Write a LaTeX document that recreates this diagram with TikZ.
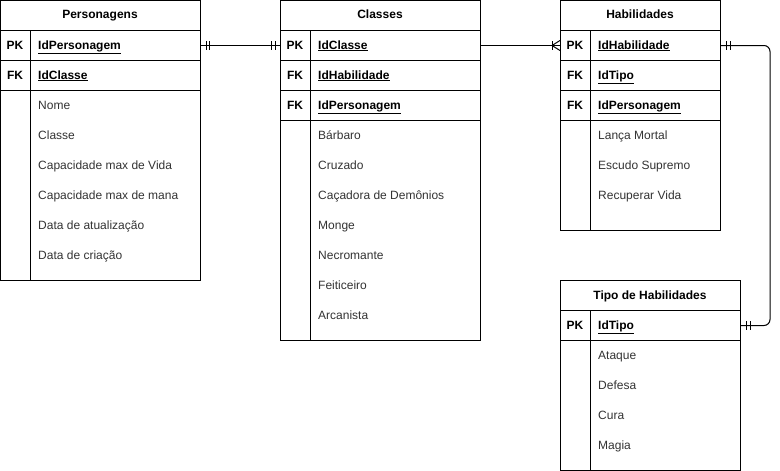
\documentclass[tikz,border=0pt]{standalone}
\usepackage{fontspec}
\setmainfont{Liberation Sans}
\usetikzlibrary{calc}
\definecolor{attrgray}{HTML}{333333}
\begin{document}
\begin{tikzpicture}[x=1pt,y=-1pt,
  box/.style={draw=black, line width=1pt, fill=white, rectangle, inner sep=0pt, anchor=north west},
  txt/.style={inner sep=0pt, text height=10pt, text depth=2pt},
  hdr/.style={txt, font=\fontsize{12}{14}\selectfont\bfseries},
  keytag/.style={txt, font=\fontsize{12}{14}\selectfont\bfseries},
  keyname/.style={txt, font=\fontsize{12}{14}\selectfont\bfseries, anchor=west},
  attr/.style={txt, font=\fontsize{12}{14}\selectfont, text=attrgray, anchor=west},
  conn/.style={draw=black, line width=1pt},
  sym/.style={draw=black, line width=1pt}
]
\useasboundingbox (0,0) rectangle (780,471);

% ---------- Personagens ----------
\node[box, minimum width=200pt, minimum height=250pt] (persbody) at (0,30) {};
\node[box, minimum width=200pt, minimum height=30pt] (pershdr) at (0,0) {};
\node[box, minimum width=200pt, minimum height=30pt] (perspk) at (0,30) {};
\node[box, minimum width=200pt, minimum height=30pt] (persfk) at (0,60) {};
\draw[conn] (30,30) coordinate (persd1) -- (30,280) coordinate (persd2);
\node[hdr] (pershdrtxt) at (100,15) {Personagens};
\node[keytag] (perspktag) at (15,45) {PK};
\node[keyname] (perspkname) at (38,45) {\underline{IdPersonagem}};
\node[keytag] (persfktag) at (15,75) {FK};
\node[keyname] (persfkname) at (38,75) {\underline{IdClasse}};
\node[attr] (persa1) at (38,105) {Nome};
\node[attr] (persa2) at (38,135) {Classe};
\node[attr] (persa3) at (38,165) {Capacidade max de Vida};
\node[attr] (persa4) at (38,195) {Capacidade max de mana};
\node[attr] (persa5) at (38,225) {Data de atualização};
\node[attr] (persa6) at (38,255) {Data de criação};

% ---------- Classes ----------
\node[box, minimum width=200pt, minimum height=310pt] (clsbody) at (280,30) {};
\node[box, minimum width=200pt, minimum height=30pt] (clshdr) at (280,0) {};
\node[box, minimum width=200pt, minimum height=30pt] (clspk) at (280,30) {};
\node[box, minimum width=200pt, minimum height=30pt] (clsfk1) at (280,60) {};
\node[box, minimum width=200pt, minimum height=30pt] (clsfk2) at (280,90) {};
\draw[conn] (310,30) coordinate (clsd1) -- (310,340) coordinate (clsd2);
\node[hdr] (clshdrtxt) at (380,15) {Classes};
\node[keytag] (clspktag) at (295,45) {PK};
\node[keyname] (clspkname) at (318,45) {\underline{IdClasse}};
\node[keytag] (clsfk1tag) at (295,75) {FK};
\node[keyname] (clsfk1name) at (318,75) {\underline{IdHabilidade}};
\node[keytag] (clsfk2tag) at (295,105) {FK};
\node[keyname] (clsfk2name) at (318,105) {\underline{IdPersonagem}};
\node[attr] (clsa1) at (318,135) {Bárbaro};
\node[attr] (clsa2) at (318,165) {Cruzado};
\node[attr] (clsa3) at (318,195) {Caçadora de Demônios};
\node[attr] (clsa4) at (318,225) {Monge};
\node[attr] (clsa5) at (318,255) {Necromante};
\node[attr] (clsa6) at (318,285) {Feiticeiro};
\node[attr] (clsa7) at (318,315) {Arcanista};

% ---------- Habilidades ----------
\node[box, minimum width=160pt, minimum height=200pt] (habbody) at (560,30) {};
\node[box, minimum width=160pt, minimum height=30pt] (habhdr) at (560,0) {};
\node[box, minimum width=160pt, minimum height=30pt] (habpk) at (560,30) {};
\node[box, minimum width=160pt, minimum height=30pt] (habfk1) at (560,60) {};
\node[box, minimum width=160pt, minimum height=30pt] (habfk2) at (560,90) {};
\draw[conn] (590,30) coordinate (habd1) -- (590,230) coordinate (habd2);
\node[hdr] (habhdrtxt) at (640,15) {Habilidades};
\node[keytag] (habpktag) at (575,45) {PK};
\node[keyname] (habpkname) at (598,45) {\underline{IdHabilidade}};
\node[keytag] (habfk1tag) at (575,75) {FK};
\node[keyname] (habfk1name) at (598,75) {\underline{IdTipo}};
\node[keytag] (habfk2tag) at (575,105) {FK};
\node[keyname] (habfk2name) at (598,105) {\underline{IdPersonagem}};
\node[attr] (haba1) at (598,135) {Lança Mortal};
\node[attr] (haba2) at (598,165) {Escudo Supremo};
\node[attr] (haba3) at (598,195) {Recuperar Vida};

% ---------- Tipo de Habilidades ----------
\node[box, minimum width=180pt, minimum height=160pt] (tipbody) at (560,310) {};
\node[box, minimum width=180pt, minimum height=30pt] (tiphdr) at (560,280) {};
\node[box, minimum width=180pt, minimum height=30pt] (tippk) at (560,310) {};
\draw[conn] (590,310) coordinate (tipd1) -- (590,470) coordinate (tipd2);
\node[hdr] (tiphdrtxt) at (650,295) {Tipo de Habilidades};
\node[keytag] (tippktag) at (575,325) {PK};
\node[keyname] (tippkname) at (598,325) {\underline{IdTipo}};
\node[attr] (tipa1) at (598,355) {Ataque};
\node[attr] (tipa2) at (598,385) {Defesa};
\node[attr] (tipa3) at (598,415) {Cura};
\node[attr] (tipa4) at (598,445) {Magia};

% ---------- Connectors ----------
% Personagens PK -- Classes PK (one and only one on both ends)
\draw[conn] (perspk.east) -- (clspk.west);
\draw[sym] ($(perspk.east)+(5,-4.5)$) -- ++(0,9);
\draw[sym] ($(perspk.east)+(8,-4.5)$) -- ++(0,9);
\draw[sym] ($(clspk.west)+(-5,-4.5)$) -- ++(0,9);
\draw[sym] ($(clspk.west)+(-9,-4.5)$) -- ++(0,9);

% Classes PK -- Habilidades PK (one or many at Habilidades)
\draw[conn] (clspk.east) -- (habpk.west);
\draw[sym] ($(habpk.west)+(-8,-4.5)$) -- ++(0,9);
\draw[sym] ($(habpk.west)+(0,-5)$) -- ($(habpk.west)+(-8,0)$) -- ($(habpk.west)+(0,5)$);

% Habilidades PK -- Tipo PK (one and only one on both ends)
\coordinate (routex) at (770,0);
\draw[conn, rounded corners=6pt] (habpk.east) -- (habpk.east -| routex) -- (tippk.east -| routex) -- (tippk.east);
\draw[sym] ($(habpk.east)+(5,-4.5)$) -- ++(0,9);
\draw[sym] ($(habpk.east)+(9,-4.5)$) -- ++(0,9);
\draw[sym] ($(tippk.east)+(5,-4.5)$) -- ++(0,9);
\draw[sym] ($(tippk.east)+(9,-4.5)$) -- ++(0,9);
\end{tikzpicture}
\end{document}
